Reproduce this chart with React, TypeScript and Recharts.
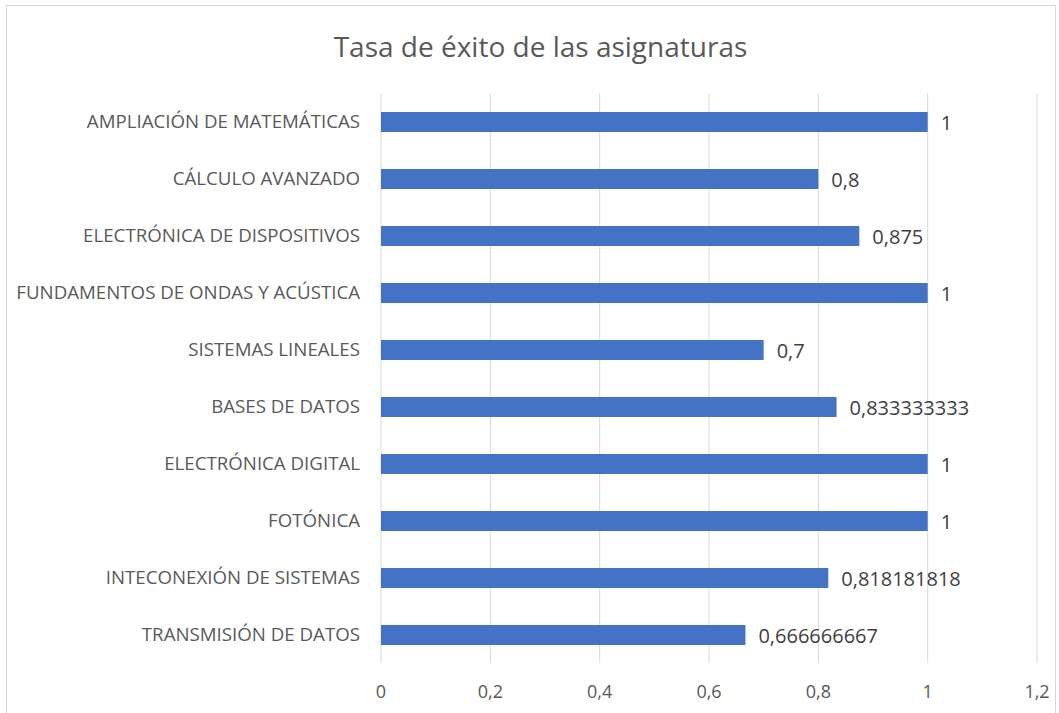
import React from 'react';
import { BarChart, Bar, XAxis, YAxis, CartesianGrid, LabelList } from 'recharts';

const categories = [
  'AMPLIACIÓN DE MATEMÁTICAS',
  'CÁLCULO AVANZADO',
  'ELECTRÓNICA DE DISPOSITIVOS',
  'FUNDAMENTOS DE ONDAS Y ACÚSTICA',
  'SISTEMAS LINEALES',
  'BASES DE DATOS',
  'ELECTRÓNICA DIGITAL',
  'FOTÓNICA',
  'INTECONEXIÓN DE SISTEMAS',
  'TRANSMISIÓN DE DATOS',
];

const values = [1, 0.8, 0.875, 1, 0.7, 0.833333333, 1, 1, 0.818181818, 0.666666667];

const xTicks = [0, 0.2, 0.4, 0.6, 0.8, 1, 1.2];

const title = 'Tasa de éxito de las asignaturas';

const data = categories.map((name, i) => ({ name, value: values[i] }));

const fmt = (v: number) => String(v).replace('.', ',');

const FONT = '"Open Sans", "Noto Sans", sans-serif';

export default function App() {
  return (
    <div style={{ position: 'absolute', left: 0, top: 0, width: 1059, height: 713, background: '#fff', overflow: 'hidden', fontFamily: FONT }}>
      <div
        style={{
          position: 'absolute',
          left: 6,
          top: 5,
          width: 1050,
          height: 720,
          border: '1px solid #d9d9d9',
          boxSizing: 'border-box',
        }}
      />
      <div
        style={{
          position: 'absolute',
          left: 0,
          top: 26,
          width: 1081,
          textAlign: 'center',
          fontSize: 28,
          color: '#595959',
          lineHeight: '40px',
        }}
      >
        {title}
      </div>
      <div style={{ position: 'absolute', left: 0, top: 0 }}>
        <BarChart
          width={1059}
          height={713}
          data={data}
          layout="vertical"
          margin={{ top: 93, right: 22, left: 0, bottom: 0 }}
          barSize={20}
        >
          <CartesianGrid horizontal={false} vertical={true} stroke="#d9d9d9" strokeWidth={1} />
          <XAxis
            type="number"
            domain={[0, 1.2]}
            ticks={xTicks}
            tickFormatter={fmt}
            axisLine={false}
            tickLine={false}
            tickMargin={16}
            height={50}
            interval={0}
            tick={{ fill: '#595959', fontSize: 18, fontFamily: FONT }}
          />
          <YAxis
            type="category"
            dataKey="name"
            width={381}
            axisLine={false}
            tickLine={false}
            tickMargin={15}
            interval={0}
            tick={{ fill: '#595959', fontSize: 18.7, fontFamily: FONT }}
          />
          <Bar dataKey="value" fill="#4472C4" isAnimationActive={false}>
            <LabelList
              dataKey="value"
              position="right"
              offset={13}
              formatter={(v: any) => fmt(Number(v))}
              fill="#404040"
              fontSize={20}
              fontFamily={FONT}
              dy={1}
            />
          </Bar>
        </BarChart>
      </div>
    </div>
  );
}
